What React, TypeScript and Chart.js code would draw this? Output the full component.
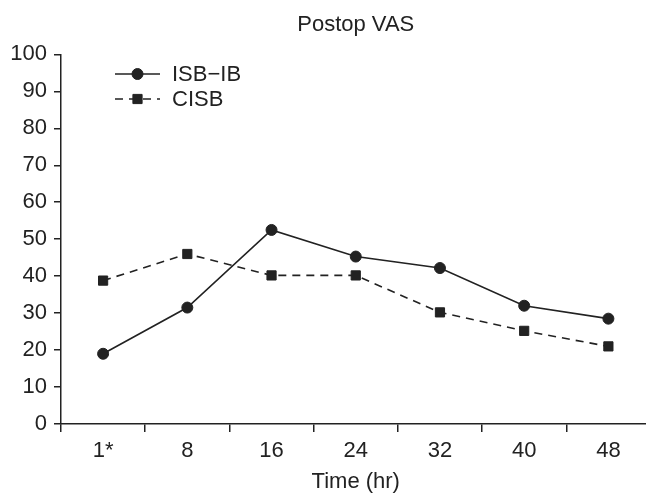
import React, { useEffect, useRef } from "react";
import { Chart, registerables } from "chart.js";

Chart.register(...registerables);

const categories = ["1*", "8", "16", "24", "32", "40", "48"];
const isbIb = [19.0, 31.5, 52.5, 45.3, 42.2, 32.0, 28.5];
const cisb = [38.8, 46.0, 40.2, 40.2, 30.2, 25.2, 21.0];
const yTicks = { min: 0, max: 100, step: 10 };
const titleText = "Postop VAS";
const xTitle = "Time (hr)";

const INK = "#222222";
const FONT = "'Liberation Sans', Arial, Helvetica, sans-serif";
const FS = 22;

const legendPlugin = {
  id: "insideLegend",
  afterDraw(chart: any) {
    const ctx = chart.ctx;
    const x0 = 115;
    const x1 = 160;
    const rows = [74, 99];
    chart.data.datasets.forEach((ds: any, i: number) => {
      const y = rows[i];
      ctx.save();
      ctx.strokeStyle = ds.borderColor;
      ctx.lineWidth = ds.borderWidth;
      ctx.setLineDash(ds.borderDash || []);
      ctx.beginPath();
      ctx.moveTo(x0, y);
      ctx.lineTo(x1, y);
      ctx.stroke();
      ctx.setLineDash([]);
      ctx.fillStyle = ds.pointBackgroundColor;
      ctx.strokeStyle = ds.pointBorderColor;
      ctx.lineWidth = 1;
      const style = ds.pointStyle;
      const r = ds.pointRadius;
      const cx = (x0 + x1) / 2;
      ctx.beginPath();
      if (style === "rect") {
        const s = Math.SQRT1_2 * r;
        ctx.rect(cx - s, y - s, 2 * s, 2 * s);
      } else {
        ctx.arc(cx, y, r, 0, Math.PI * 2);
      }
      ctx.fill();
      ctx.stroke();
      ctx.fillStyle = INK;
      ctx.font = `${FS}px ${FONT}`;
      ctx.textAlign = "left";
      ctx.textBaseline = "middle";
      ctx.fillText(ds.label, 172, y + 1);
      ctx.restore();
    });
  },
};

export default function App() {
  const ref = useRef<HTMLCanvasElement | null>(null);

  useEffect(() => {
    document.body.style.margin = "0";
    document.body.style.overflow = "hidden";
    document.documentElement.style.overflow = "hidden";
    const canvas = ref.current;
    if (!canvas) return;
    const chart = new Chart(canvas, {
      type: "line",
      data: {
        labels: categories,
        datasets: [
          {
            label: "ISB\u2212IB",
            data: isbIb,
            borderColor: INK,
            borderWidth: 1.6,
            pointStyle: "circle",
            pointRadius: 5.5,
            pointBackgroundColor: INK,
            pointBorderColor: INK,
            pointBorderWidth: 1,
            tension: 0,
            fill: false,
          },
          {
            label: "CISB",
            data: cisb,
            borderColor: INK,
            borderWidth: 1.6,
            borderDash: [8, 6],
            pointStyle: "rect",
            pointRadius: 6.5,
            pointBackgroundColor: INK,
            pointBorderColor: INK,
            pointBorderWidth: 1,
            tension: 0,
            fill: false,
          },
        ],
      },
      options: {
        animation: false,
        responsive: false,
        maintainAspectRatio: false,
        layout: { padding: { left: 0, right: 0, top: 0, bottom: 0 } },
        plugins: {
          legend: { display: false },
          tooltip: { enabled: false },
          title: {
            display: true,
            text: titleText,
            fullSize: false,
            color: INK,
            font: { family: FONT, size: FS, weight: "normal" },
            padding: { top: 12, bottom: 16 },
          },
        },
        scales: {
          x: {
            type: "category",
            offset: true,
            grid: {
              offset: true,
              drawOnChartArea: false,
              drawTicks: true,
              tickLength: 8,
              color: INK,
              lineWidth: 1.5,
            },
            border: { display: true, color: INK, width: 1.5 },
            ticks: {
              color: INK,
              font: { family: FONT, size: FS },
              padding: 6,
              maxRotation: 0,
              autoSkip: false,
            },
            title: {
              display: true,
              text: xTitle,
              color: INK,
              font: { family: FONT, size: FS },
              padding: { top: 0, bottom: 0 },
            },
            afterFit(scale: any) {
              scale.height = 71;
            },
          },
          y: {
            min: yTicks.min,
            max: yTicks.max,
            grid: {
              drawOnChartArea: false,
              drawTicks: true,
              tickLength: 7,
              color: INK,
              lineWidth: 1.5,
            },
            border: { display: true, color: INK, width: 1.5 },
            ticks: {
              stepSize: yTicks.step,
              color: INK,
              font: { family: FONT, size: FS },
              padding: 7,
            },
            afterFit(scale: any) {
              scale.width = 61;
            },
          },
        },
      },
      plugins: [legendPlugin],
    });
    return () => chart.destroy();
  }, []);

  return (
    <div style={{ width: 646, height: 494, overflow: "hidden", position: "relative" }}>
      <canvas
        ref={ref}
        width={658}
        height={495}
        style={{ width: 658, height: 495, display: "block", position: "absolute", left: 0, top: 0 }}
      />
    </div>
  );
}
